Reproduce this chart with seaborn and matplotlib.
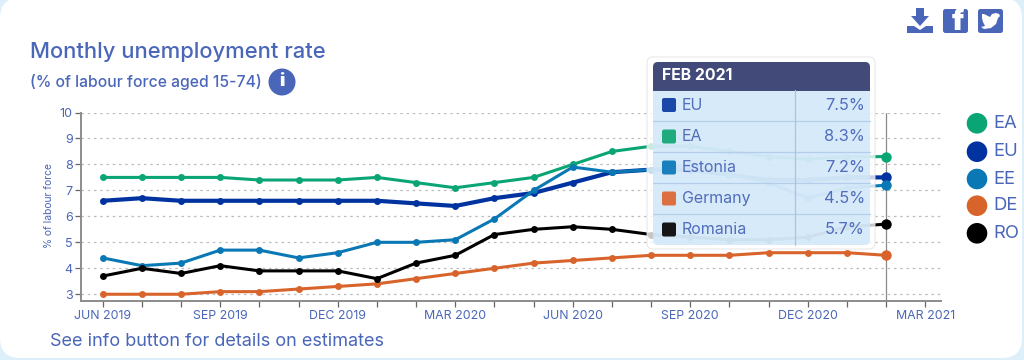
import matplotlib
matplotlib.use("Agg")
import matplotlib.pyplot as plt
from matplotlib.patches import FancyBboxPatch, Circle, Rectangle, Polygon
import pandas as pd
import seaborn as sns

# --- data ---
months = list(range(21))
all_ticks = list(range(22))
x_labels = ["JUN 2019", "SEP 2019", "DEC 2019", "MAR 2020", "JUN 2020", "SEP 2020", "DEC 2020", "MAR 2021"]
y_ticks = [3, 4, 5, 6, 7, 8, 9, 10]

ea = [7.5, 7.5, 7.5, 7.5, 7.4, 7.4, 7.4, 7.5, 7.3, 7.1, 7.3, 7.5, 8.0, 8.5, 8.7, 8.7, 8.5, 8.3, 8.2, 8.3, 8.3]
eu = [6.6, 6.7, 6.6, 6.6, 6.6, 6.6, 6.6, 6.6, 6.5, 6.4, 6.7, 6.9, 7.3, 7.7, 7.8, 7.8, 7.6, 7.4, 7.4, 7.5, 7.5]
ee = [4.4, 4.1, 4.2, 4.7, 4.7, 4.4, 4.6, 5.0, 5.0, 5.1, 5.9, 7.0, 7.9, 7.7, 7.8, 8.0, 7.6, 7.3, 6.7, 7.1, 7.2]
de = [3.0, 3.0, 3.0, 3.1, 3.1, 3.2, 3.3, 3.4, 3.6, 3.8, 4.0, 4.2, 4.3, 4.4, 4.5, 4.5, 4.5, 4.6, 4.6, 4.6, 4.5]
ro = [3.7, 4.0, 3.8, 4.1, 3.9, 3.9, 3.9, 3.6, 4.2, 4.5, 5.3, 5.5, 5.6, 5.5, 5.3, 5.2, 5.1, 5.1, 5.2, 5.6, 5.7]

codes = ["EA", "EU", "EE", "DE", "RO"]
values = [ea, eu, ee, de, ro]
colors = ["#0aa574", "#0033a0", "#0a78b4", "#d8642b", "#000000"]
widths = [2.2, 3.0, 2.2, 2.2, 2.2]

tip_names = ["EU", "EA", "Estonia", "Germany", "Romania"]
tip_values = [eu, ea, ee, de, ro]
tip_colors = ["#1a47a8", "#1fab7e", "#1a80bd", "#dc7040", "#161616"]

TXT = "#4a66b8"
W, H = 1024, 360

sns.set_style("white")
plt.rcParams["font.family"] = ["Inter", "DejaVu Sans"]

fig = plt.figure(figsize=(W / 100, H / 100), dpi=100, facecolor="#dceffa")

# card behind everything
bg = fig.add_axes([0, 0, 1, 1], zorder=0)
bg.set_xlim(0, W)
bg.set_ylim(H, 0)
bg.axis("off")
bg.add_patch(FancyBboxPatch((0, -2), 1022, 360, boxstyle="round,pad=0,rounding_size=20", fc="white", ec="none"))

# plot area in pixels
left, right, top, bottom = 81, 941, 112.5, 301
ax = fig.add_axes([left / W, 1 - bottom / H, (right - left) / W, (bottom - top) / H], zorder=1)
ax.patch.set_alpha(0)

df = pd.DataFrame({"month": months, "EA": ea, "EU": eu, "EE": ee, "DE": de, "RO": ro})
ax.axvline(20, color="#8a8a8a", lw=0.9, zorder=1)
for code, col, lw in zip(codes, colors, widths):
    sns.lineplot(data=df, x="month", y=code, color=col, lw=lw, marker="o", markersize=5,
                 markeredgewidth=0, ax=ax, zorder=3, clip_on=False)
    ax.plot(20, df[code].iloc[-1], "o", color=col, ms=7.5, mew=0, zorder=3, clip_on=False)

ax.set_xlim(-0.554, 21.4)
ax.set_ylim(2.74, 10)
ax.set_xticks(all_ticks)
ax.set_xticklabels([x_labels[i // 3] if i % 3 == 0 else "" for i in all_ticks])
ax.set_yticks(y_ticks)
ax.grid(axis="y", color="#bdbdbd", ls=(0, (2, 3)), lw=0.9)
ax.grid(axis="x", visible=False)
ax.tick_params(axis="x", bottom=True, length=4, width=0.9, color="#666666", labelcolor=TXT, labelsize=8.9, pad=2.5)
ax.tick_params(axis="y", left=True, length=4, width=0.9, color="#666666", labelcolor=TXT, labelsize=9, pad=2)
ax.set_xlabel("")
ax.set_ylabel("")
sns.despine(ax=ax, top=True, right=True)
for s in ["left", "bottom"]:
    ax.spines[s].set_color("#8c8c8c")
    ax.spines[s].set_linewidth(1.4)

# everything on top of the plot, pixel coordinates
ov = fig.add_axes([0, 0, 1, 1], zorder=2)
ov.set_xlim(0, W)
ov.set_ylim(H, 0)
ov.axis("off")
ov.patch.set_alpha(0)

ov.text(30, 51.5, "Monthly unemployment rate", color=TXT, fontsize=15.8, fontweight="medium", va="center")
ov.text(30, 82, "(% of labour force aged 15-74)", color=TXT, fontsize=11.3, fontweight="medium", va="center")
ov.add_patch(Circle((282, 82), 13.5, fc=TXT, ec="none"))
ov.text(282, 82, "i", color="white", fontsize=13, fontweight="black", ha="center", va="center")
ov.text(50, 342, "See info button for details on estimates", color=TXT, fontsize=13, va="center")
ov.text(49, 205, "% of labour force", color=TXT, fontsize=7.4, rotation=90, ha="center", va="center")

# share icons
ICON = "#4a66b8"
ov.add_patch(Polygon([(916, 8), (924, 8), (924, 16), (929, 16), (920, 26), (911, 16), (916, 16)], fc=ICON, ec="none"))
ov.add_patch(Polygon([(907, 33), (907, 26), (914, 26), (920, 30), (926, 26), (933, 26), (933, 33)], fc=ICON, ec="none"))
ov.add_patch(FancyBboxPatch((943, 9), 25, 24, boxstyle="round,pad=0,rounding_size=2.5", fc=ICON, ec="none"))
ov.text(958, 22, "f", color="white", fontsize=21, fontweight="black", ha="center", va="center")
ov.add_patch(FancyBboxPatch((978, 9), 25, 24, boxstyle="round,pad=0,rounding_size=2.5", fc=ICON, ec="none"))
ov.add_patch(Polygon([(982, 14), (984, 14), (990, 17), (992, 14), (996, 13), (999, 14), (1000, 16), (998, 18),
                      (996, 24), (991, 28), (984, 29), (981, 27), (985, 26), (983, 22), (982, 18)],
                     fc="white", ec="none"))

# legend on the right
leg_y = [123.3, 151.7, 179, 205.7, 233.3]
for code, col, y in zip(codes, colors, leg_y):
    ov.add_patch(Circle((977, y), 10.3, fc=col, ec="none"))
    ov.text(993, y, code, color=TXT, fontsize=13.3, va="center")

# tooltip
ov.add_patch(FancyBboxPatch((647, 57), 228, 192, boxstyle="round,pad=0,rounding_size=6",
                            fc="white", ec="#e3e3e3", lw=0.8, alpha=0.78))
ov.add_patch(FancyBboxPatch((653, 62), 217, 183, boxstyle="round,pad=0,rounding_size=5",
                            fc="#cfe6f8", ec="none", alpha=0.82))
ov.add_patch(FancyBboxPatch((653, 62), 217, 28, boxstyle="round,pad=0,rounding_size=5", fc="#414a78", ec="none"))
ov.add_patch(Rectangle((653, 80), 217, 10.5, fc="#414a78", ec="none"))
ov.text(662, 76, "FEB 2021", color="white", fontsize=11.4, fontweight="bold", va="center")
for y in [121, 152, 183, 214]:
    ov.plot([653, 870], [y, y], color="#b4cdea", lw=0.9)
ov.plot([795, 795], [90, 245], color="#a9c3e4", lw=0.9)
row_y = [105, 136.5, 167.5, 198.5, 229.5]
for name, vals, col, y in zip(tip_names, tip_values, tip_colors, row_y):
    ov.add_patch(FancyBboxPatch((662, y - 7), 14, 14, boxstyle="round,pad=0,rounding_size=2", fc=col, ec="none"))
    ov.text(682, y, name, color=TXT, fontsize=11.5, va="center", alpha=0.95)
    ov.text(865, y, f"{vals[-1]:.1f}%", color=TXT, fontsize=11.8, ha="right", va="center", alpha=0.95)

fig.savefig("out.png", dpi=100, facecolor=fig.get_facecolor())
